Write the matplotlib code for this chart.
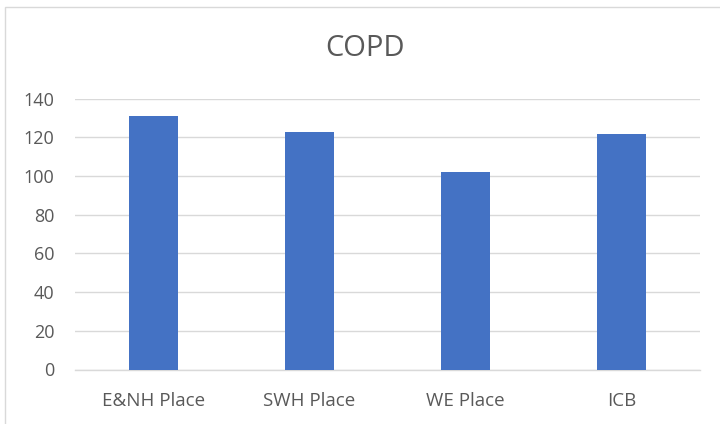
import matplotlib
matplotlib.use("Agg")
import matplotlib.pyplot as plt
from matplotlib.patches import Rectangle

categories = ["E&NH Place", "SWH Place", "WE Place", "ICB"]
values = [131.0, 122.8, 102.2, 121.7]
yticks = [0, 20, 40, 60, 80, 100, 120, 140]

plt.rcParams["font.family"] = ["Open Sans", "DejaVu Sans"]
text_color = "#595959"
grid_color = "#d9d9d9"
bar_color = "#4472c4"

fig = plt.figure(figsize=(7.2, 4.24), dpi=100)
ax = fig.add_axes([75 / 720, 1 - 369.5 / 424, 625 / 720, (369.5 - 98.7) / 424])

x = range(len(categories))
ax.bar(x, values, width=0.315, color=bar_color, zorder=3)

ax.set_xlim(-0.5, len(categories) - 0.5)
ax.set_ylim(0, 140)
ax.set_yticks(yticks)
ax.set_xticks(list(x))
ax.set_xticklabels(categories)
ax.tick_params(axis="both", length=0, colors=text_color, labelsize=13)
ax.tick_params(axis="x", labelsize=13.5, pad=16)
ax.tick_params(axis="y", pad=15)
ax.grid(axis="y", color=grid_color, linewidth=1.0, zorder=0)
for side in ("top", "right", "left"):
    ax.spines[side].set_visible(False)
ax.spines["bottom"].set_color(grid_color)
ax.spines["bottom"].set_linewidth(1.0)

fig.text(365 / 720, 1 - 48 / 424, "COPD", ha="center", va="center",
         fontsize=21, color=text_color)

# chart frame
fig.patches.append(Rectangle((5 / 720, -0.1), 1.2, 1 - 7 / 424 + 0.1,
                             transform=fig.transFigure, fill=False,
                             edgecolor=grid_color, linewidth=1.0))

fig.savefig("out.png", dpi=100)
